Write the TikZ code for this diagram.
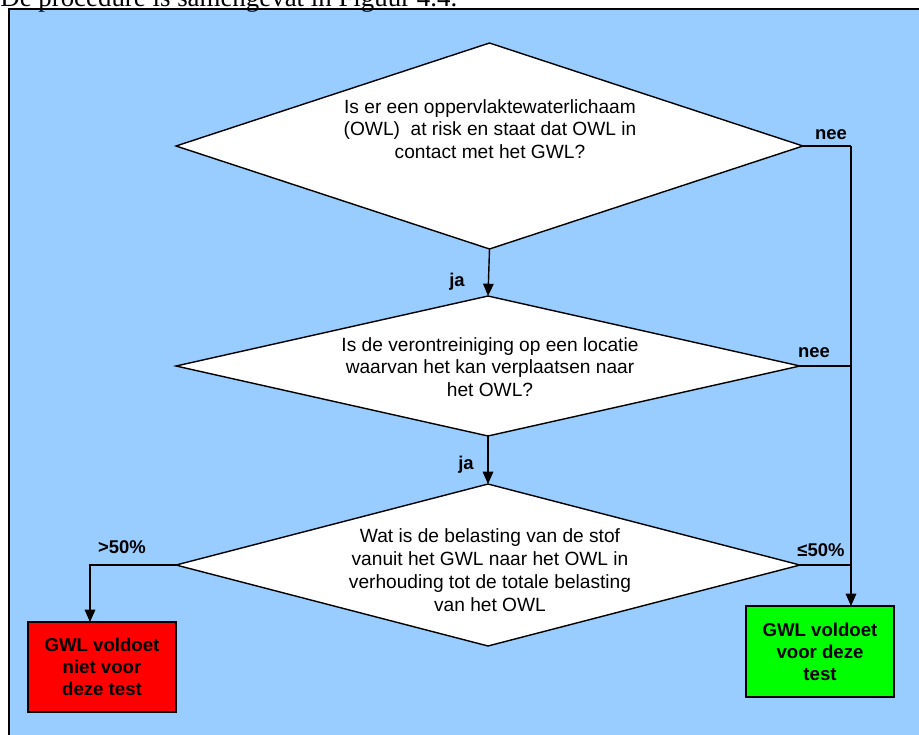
\documentclass[tikz,border=0pt]{standalone}
\usepackage{fontspec}
\setmainfont{Liberation Sans}
\newfontfamily\timesfont{Liberation Serif}
\usetikzlibrary{shapes.geometric,arrows.meta}
\definecolor{skyblue}{RGB}{153,204,255}
\definecolor{nogood}{RGB}{255,0,0}
\definecolor{good}{RGB}{0,255,0}
\tikzset{
  question/.style={draw,fill=white,shape=diamond,inner sep=0pt,outer sep=0pt,line width=0.8pt},
  qtext/.style={align=center,inner sep=0pt,font=\fontsize{10.9}{13}\selectfont},
  answer/.style={draw,line width=0.8pt,align=center,inner sep=0pt,outer sep=0pt,font=\fontsize{10.6}{12.6}\selectfont\bfseries},
  lbl/.style={inner sep=0pt,font=\fontsize{10.5}{12.6}\selectfont\bfseries},
  link/.style={line width=0.8pt},
  arr/.style={link,-{Triangle[length=7pt,width=6pt]}}
}
\begin{document}
\begin{tikzpicture}[x=0.02cm,y=-0.02cm]
  \useasboundingbox (0,0) rectangle (919,734);
  \filldraw[fill=skyblue,draw=black,line width=0.8pt] (9,9) rectangle (940,760);
  \node[anchor=base west,inner sep=0pt,font=\timesfont\fontsize{15.3}{18}\selectfont] (intro) at (0,6) {De procedure is samengevat in Figuur 4.4.};

  \node[question,minimum width=12.54cm,minimum height=4.12cm] (d1) at (489.5,146) {};
  \node[question,minimum width=12.48cm,minimum height=2.8cm] (d2) at (488,366) {};
  \node[question,minimum width=12.48cm,minimum height=3.24cm] (d3) at (488,565) {};
  \node[qtext] (t1) at (490,129) {Is er een oppervlaktewaterlichaam\\(OWL)~ at risk en staat dat OWL in\\contact met het GWL?};
  \node[qtext] (t2) at (490,367) {Is de verontreiniging op een locatie\\waarvan het kan verplaatsen naar\\het OWL?};
  \node[qtext] (t3) at (490,570) {Wat is de belasting van de stof\\vanuit het GWL naar het OWL in\\verhouding tot de totale belasting\\van het OWL};

  \node[answer,fill=nogood,minimum width=2.96cm,minimum height=1.8cm] (bad) at (102,667) {GWL voldoet\\niet voor\\deze test};
  \node[answer,fill=good,minimum width=2.96cm,minimum height=1.82cm] (ok) at (820,651.5) {GWL voldoet\\voor deze\\test};

  \coordinate (trunk) at (851,146);
  \coordinate (bend) at (90,565);
  \draw[link] (d1.east) -- (trunk);
  \draw[arr] (trunk) -- (trunk |- ok.north);
  \draw[link] (d2.east) -- (d2.east -| trunk);
  \draw[link] (d3.east) -- (d3.east -| trunk);
  \draw[arr] (d1.south) -- (d2.north);
  \draw[arr] (d2.south) -- (d3.north);
  \draw[arr] (d3.west) -- (bend) -- (bend |- bad.north);

  \node[lbl] (nee1) at (831,135) {nee};
  \node[lbl] (nee2) at (814,353) {nee};
  \node[lbl] (ja1) at (457,282) {ja};
  \node[lbl] (ja2) at (466,465) {ja};
  \node[lbl] (meer) at (122,547) {>50\%};
  \node[lbl] (minder) at (821,550) {≤50\%};
\end{tikzpicture}
\end{document}
